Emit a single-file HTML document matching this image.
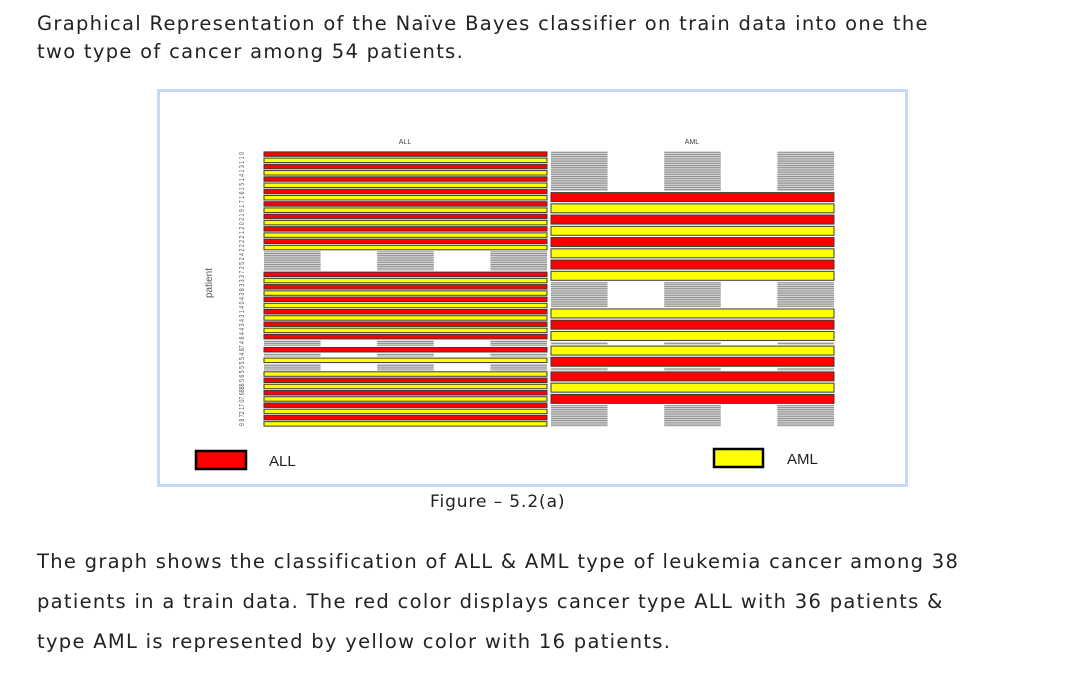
<!DOCTYPE html>
<html><head><meta charset="utf-8"><style>
body{margin:0;width:1074px;height:697px;background:#fff;font-family:"DejaVu Sans","Liberation Sans",sans-serif;color:#222;position:relative;overflow:hidden}
.t{position:absolute;white-space:nowrap;letter-spacing:1.3px}
</style></head><body>
<div class="t" style="left:37px;top:10px;font-size:19.5px;line-height:28px">Graphical Representation of the Naïve Bayes classifier on train data into one the<br>two type of cancer among 54 patients.</div>
<div style="position:absolute;left:157px;top:89px;width:745px;height:392px;border:3px solid #c5d9f0"></div>
<svg id="chart" width="1074" height="697" style="position:absolute;left:0;top:0">
<defs><pattern id="stripe" width="4" height="2.2" patternUnits="userSpaceOnUse"><rect width="4" height="2.2" fill="#d8d8d8"/><rect width="4" height="1" fill="#8a8a8a"/></pattern></defs>
<text x="405" y="144" font-size="7" text-anchor="middle" fill="#444" font-family="Liberation Sans">ALL</text>
<text x="692" y="144" font-size="7" text-anchor="middle" fill="#444" font-family="Liberation Sans">AML</text>
<text transform="translate(212,283) rotate(-90)" font-size="10" text-anchor="middle" fill="#555" font-family="Liberation Sans">patient</text>
<text transform="translate(244,426) rotate(-90)" font-size="7.2" textLength="274" lengthAdjust="spacingAndGlyphs" fill="#555" font-family="Liberation Sans">9 8 72 17 07 6888 5 6 5 5 5 5 4 87 4 6 4 4 3 4 3 1 4 0 4 3 8 3 3 3 7 2 5 2 4 2 2 2 2 1 2 0 2 1 9 1 7 1 6 1 5 1 4 1 3 1 1 0</text>
<g id="marks"></g>
<rect x="196" y="451" width="50" height="18" fill="#ff0000" stroke="#000" stroke-width="2.5"/>
<text x="269" y="466" font-size="15" fill="#222" font-family="Liberation Sans">ALL</text>
<rect x="714" y="449" width="49" height="18" fill="#ffff00" stroke="#000" stroke-width="2.5"/>
<text x="787" y="464" font-size="15" fill="#222" font-family="Liberation Sans">AML</text>
</svg>
<div class="t" style="left:430px;top:492px;font-size:17px;letter-spacing:0.9px">Figure – 5.2(a)</div>
<div class="t" style="left:37px;top:542px;font-size:19.5px;line-height:40px">The graph shows the classification of ALL &amp; AML type of leukemia cancer among 38<br>patients in a train data. The red color displays cancer type ALL with 36 patients &amp;<br>type AML is represented by yellow color with 16 patients.</div>
<script>
// Left panel (true ALL): predicted class per row; 'gap' = empty rows
const leftRows=['ALL','AML','ALL','AML','ALL','AML','ALL','AML','ALL','AML','ALL','AML','ALL','AML','ALL','AML','gap','ALL','AML','ALL','AML','ALL','AML','ALL','AML','ALL','AML','ALL','gap','ALL','gap','AML','gap','AML','ALL','AML','ALL','AML','ALL','AML','ALL','AML'];
const leftGapSizes=[3.3,1.1,0.7,1.2];
const rightRows=['gap','ALL','AML','ALL','AML','ALL','AML','ALL','AML','gap','AML','ALL','AML','gap','AML','ALL','gap','ALL','AML','ALL','gap'];
const rightGapSizes=[3.6,2.35,0.3,0.3,2.0];
const colors={ALL:'#ff0000',AML:'#ffff00'};
const g=document.getElementById('marks');
const NS='http://www.w3.org/2000/svg';
function panel(rows,gaps,x0,x1,y0,y1,barFrac,name){
  let total=0,gi=0;
  rows.forEach(r=>{total+= r==='gap'?gaps[gi++]:1;});
  const u=(y1-y0)/total; const w=x1-x0; const cw=w*0.2;
  let y=y0; gi=0;
  rows.forEach((r,i)=>{
    if(r==='gap'){
      const h=gaps[gi++]*u;
      [0,0.4,0.8].forEach(f=>{
        const s=document.createElementNS(NS,'rect');
        s.setAttribute('x',x0+w*f);s.setAttribute('y',y+0.5);s.setAttribute('width',cw);s.setAttribute('height',Math.max(h-1,1));
        s.setAttribute('fill','url(#stripe)');
        
        
        g.appendChild(s);
      });
      y+=h;
    } else {
      const bh=u*barFrac;
      const b=document.createElementNS(NS,'rect');
      b.setAttribute('x',x0);b.setAttribute('y',y+(u-bh)/2);b.setAttribute('width',w);b.setAttribute('height',bh);
      b.setAttribute('fill',colors[r]);b.setAttribute('stroke','#3a3a3a');b.setAttribute('stroke-width','1');
      
      
      g.appendChild(b);
      y+=u;
    }
  });
}
panel(leftRows,leftGapSizes,264,547,151,427,0.72,'all-panel');
panel(rightRows,rightGapSizes,551,834,151,427,0.8,'aml-panel');
</script>
</body></html>
